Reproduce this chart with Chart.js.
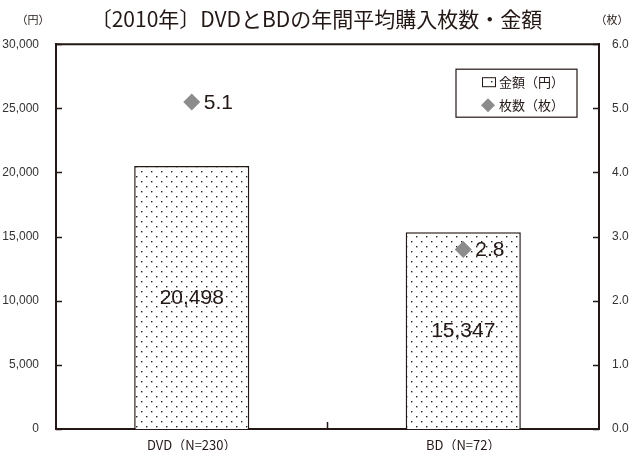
<!DOCTYPE html>
<html>
<head>
<meta charset="utf-8">
<script src="https://cdn.jsdelivr.net/npm/chart.js@4"></script>
<style>
  body { margin: 0; background: #fff; }
  #wrap { width: 633px; height: 450px; }
</style>
</head>
<body>
<div id="wrap"><canvas id="chart1"></canvas></div>
<script>
// data
var categories = ['DVD（N=230）', 'BD（N=72）'];
var amounts = [20498, 15347];   // 金額(円)
var counts = [5.1, 2.8];        // 枚数(枚)
var amountTicks = [0, 5000, 10000, 15000, 20000, 25000, 30000];
var countTicks = [0, 1, 2, 3, 4, 5, 6];

var ink = '#231815';
var jp = '"Noto Sans CJK JP", "Liberation Sans", sans-serif';
var num = '"Liberation Sans", "Noto Sans CJK JP", sans-serif';

// dotted fill for the bars
function dots() {
  var c = document.createElement('canvas');
  c.width = 10; c.height = 10;
  var g = c.getContext('2d');
  g.fillStyle = '#fff';
  g.fillRect(0, 0, 10, 10);
  g.fillStyle = '#222';
  g.fillRect(1, 1, 1.4, 1.4);
  g.fillRect(6, 6, 1.4, 1.4);
  return c;
}
var pat = document.getElementById('chart1').getContext('2d').createPattern(dots(), 'repeat');

// box, inner ticks, labels, legend
var extras = {
  id: 'extras',
  afterDraw: function(chart) {
    var ctx = chart.ctx;
    var a = chart.chartArea;
    var y = chart.scales.y, y1 = chart.scales.y1, x = chart.scales.x;
    ctx.save();
    ctx.strokeStyle = ink;
    ctx.lineWidth = 2;
    ctx.beginPath();
    ctx.moveTo(a.left - 1, a.top);
    ctx.lineTo(a.right + 1, a.top);
    ctx.stroke();

    ctx.lineWidth = 1.5;
    ctx.beginPath();
    amountTicks.forEach(function(v) {
      var p = Math.round(y.getPixelForValue(v)) + 0.5;
      ctx.moveTo(a.left, p); ctx.lineTo(a.left + 6, p);
    });
    countTicks.forEach(function(v) {
      var p = Math.round(y1.getPixelForValue(v)) + 0.5;
      ctx.moveTo(a.right, p); ctx.lineTo(a.right - 6, p);
    });
    var mid = (x.getPixelForValue(0) + x.getPixelForValue(1)) / 2;
    ctx.moveTo(mid, a.bottom); ctx.lineTo(mid, a.bottom - 7);
    ctx.stroke();

    // units
    ctx.fillStyle = ink;
    ctx.font = '11px ' + jp;
    ctx.textAlign = 'center';
    ctx.textBaseline = 'middle';
    ctx.fillText('（円）', 33, 20);
    ctx.fillText('（枚）', 612, 20);

    // bar values
    ctx.font = '21px ' + num;
    chart.getDatasetMeta(0).data.forEach(function(bar, i) {
      ctx.fillText(amounts[i].toLocaleString('en-US'), bar.x, (bar.y + bar.base) / 2 + 1);
    });
    // point values
    ctx.textAlign = 'left';
    chart.getDatasetMeta(1).data.forEach(function(pt, i) {
      ctx.fillText(counts[i].toFixed(1), pt.x + 12, pt.y + 1);
    });

    // legend
    var lx = a.right - 143, ly = a.top + 25, lw = 121, lh = 48;
    ctx.fillStyle = '#fff';
    ctx.fillRect(lx, ly, lw, lh);
    ctx.lineWidth = 1.2;
    ctx.strokeRect(lx, ly, lw, lh);
    ctx.fillStyle = pat;
    ctx.fillRect(lx + 26, ly + 8, 13, 9);
    ctx.lineWidth = 1;
    ctx.strokeRect(lx + 26.5, ly + 8.5, 13, 9);
    ctx.fillStyle = '#8c8c8c';
    ctx.beginPath();
    var cx = lx + 32, cy = ly + 36;
    ctx.moveTo(cx - 7, cy); ctx.lineTo(cx, cy - 7); ctx.lineTo(cx + 7, cy); ctx.lineTo(cx, cy + 7);
    ctx.closePath();
    ctx.fill();
    ctx.fillStyle = ink;
    ctx.font = '13px ' + jp;
    ctx.fillText(chart.data.datasets[0].label, lx + 43, ly + 13);
    ctx.fillText(chart.data.datasets[1].label, lx + 43, ly + 36);
    ctx.restore();
  }
};

new Chart(document.getElementById('chart1'), {
  data: {
    labels: categories,
    datasets: [{
      type: 'bar',
      label: '金額（円）',
      data: amounts,
      yAxisID: 'y',
      backgroundColor: pat,
      borderColor: ink,
      borderWidth: 1.5,
      categoryPercentage: 1,
      barPercentage: 0.424,
      order: 1
    }, {
      type: 'line',
      label: '枚数（枚）',
      data: counts,
      yAxisID: 'y1',
      showLine: false,
      pointStyle: 'rectRot',
      pointRadius: 8.5,
      pointBackgroundColor: '#8c8c8c',
      pointBorderWidth: 0,
      order: 0
    }]
  },
  options: {
    responsive: true,
    maintainAspectRatio: false,
    animation: false,
    layout: { padding: { left: 0, right: 0, top: 0, bottom: 0 } },
    plugins: {
      legend: { display: false },
      tooltip: { enabled: false },
      title: {
        display: true,
        text: '〔2010年〕DVDとBDの年間平均購入枚数・金額',
        color: ink,
        font: { family: jp, size: 21, weight: 'normal' },
        padding: { top: 6, bottom: 13 }
      }
    },
    scales: {
      x: {
        grid: { display: false },
        border: { color: ink, width: 2 },
        ticks: { color: ink, padding: 0, font: { family: jp, size: 13 } },
        afterFit: function(s) { s.height = 21; }
      },
      y: {
        position: 'left',
        min: 0, max: 30000,
        afterBuildTicks: function(s) { s.ticks = amountTicks.map(function(v) { return { value: v }; }); },
        grid: { display: false },
        border: { color: ink, width: 2 },
        ticks: {
          color: '#333', padding: 9, font: { family: num, size: 12 },
          callback: function(v) { return v.toLocaleString('en-US'); }
        },
        afterFit: function(s) { s.width = 56; }
      },
      y1: {
        position: 'right',
        min: 0, max: 6,
        afterBuildTicks: function(s) { s.ticks = countTicks.map(function(v) { return { value: v }; }); },
        grid: { display: false },
        border: { color: ink, width: 2 },
        ticks: {
          color: '#333', padding: 5, font: { family: num, size: 12 },
          callback: function(v) { return v.toFixed(1); }
        },
        afterFit: function(s) { s.width = 34; }
      }
    }
  },
  plugins: [extras]
});
</script>
</body>
</html>
